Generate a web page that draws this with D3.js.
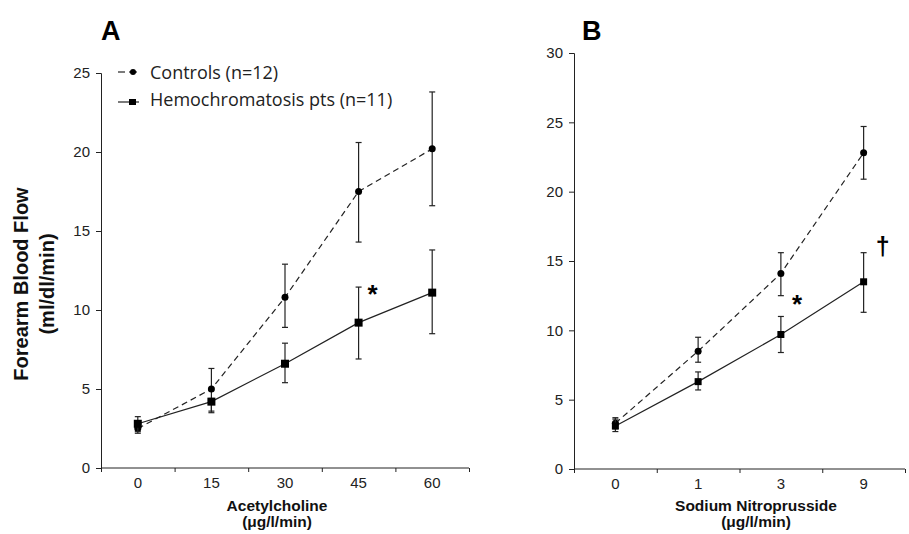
<!DOCTYPE html>
<html>
<head>
<meta charset="UTF-8">
<title>Forearm Blood Flow</title>
<script src="https://cdn.jsdelivr.net/npm/d3@7"></script>
<style>
  body { margin: 0; background: #fff; }
  text { font-family: Arial, "Liberation Sans", sans-serif; }
</style>
</head>
<body>
<div id="chart"></div>
<script>
// panel A : acetylcholine
var achDoses = ["0", "15", "30", "45", "60"];
var achControls = [2.5, 5.0, 10.8, 17.5, 20.2];
var achControlsLo = [2.2, 3.5, 8.9, 14.3, 16.6];
var achControlsHi = [2.8, 6.3, 12.9, 20.6, 23.8];
var achHemo = [2.8, 4.2, 6.6, 9.2, 11.1];
var achHemoLo = [2.3, 3.6, 5.4, 6.9, 8.5];
var achHemoHi = [3.25, 4.4, 7.9, 11.45, 13.8];
var achTicks = [0, 5, 10, 15, 20, 25];

// panel B : sodium nitroprusside
var snpDoses = ["0", "1", "3", "9"];
var snpControls = [3.3, 8.5, 14.1, 22.8];
var snpControlsLo = [2.9, 7.7, 12.5, 20.9];
var snpControlsHi = [3.7, 9.5, 15.6, 24.7];
var snpHemo = [3.1, 6.3, 9.7, 13.5];
var snpHemoLo = [2.7, 5.7, 8.4, 11.3];
var snpHemoHi = [3.6, 7.0, 11.0, 15.6];
var snpTicks = [0, 5, 10, 15, 20, 25, 30];

var svg = d3.select("#chart").append("svg")
    .attr("width", 909)
    .attr("height", 534);

function panel(cfg) {
  var x = d3.scaleBand().domain(cfg.doses).range([cfg.x0, cfg.x1]).padding(0);
  var xb = d3.scaleLinear().domain([0, cfg.doses.length]).range([cfg.x0, cfg.x1]);
  var y = d3.scaleLinear().domain([0, cfg.ymax]).range([cfg.y0, cfg.y1]);
  var g = svg.append("g");

  // y axis
  var ya = g.append("g")
      .attr("transform", "translate(" + cfg.x0 + ",0)")
      .call(d3.axisLeft(y).tickValues(cfg.ticks).tickSize(5).tickPadding(6));
  ya.select(".domain").attr("stroke", "#222");
  ya.selectAll(".tick line").attr("stroke", "#222");
  ya.selectAll(".tick text").attr("font-size", 15).attr("fill", "#222");

  // x axis: boundary ticks + centred labels
  var xa = g.append("g")
      .attr("transform", "translate(0," + cfg.y0 + ")")
      .call(d3.axisBottom(xb).tickValues(d3.range(cfg.doses.length + 1)).tickSize(4).tickFormat(""));
  xa.select(".domain").attr("stroke", "#222").attr("d", "M" + cfg.x0 + ",0H" + cfg.x1);
  xa.selectAll(".tick line").attr("stroke", "#222");
  var xl = g.append("g")
      .attr("transform", "translate(0," + cfg.y0 + ")")
      .call(d3.axisBottom(x).tickSize(0).tickPadding(9));
  xl.select(".domain").remove();
  xl.selectAll(".tick text").attr("font-size", 15).attr("fill", "#222");

  var cx = function(d, i) { return x(cfg.doses[i]) + x.bandwidth() / 2; };

  var series = [
    { v: cfg.ctrl, lo: cfg.ctrlLo, hi: cfg.ctrlHi, dash: "6,4", mark: "circle" },
    { v: cfg.hemo, lo: cfg.hemoLo, hi: cfg.hemoHi, dash: null, mark: "square" }
  ];

  series.forEach(function(s) {
    var line = d3.line().x(cx).y(function(d) { return y(d); });
    g.append("path").datum(s.v)
        .attr("d", line)
        .attr("fill", "none")
        .attr("stroke", "#222")
        .attr("stroke-width", 1.2)
        .attr("stroke-dasharray", s.dash);

    s.v.forEach(function(d, i) {
      var px = cx(d, i);
      g.append("line").attr("x1", px).attr("x2", px)
          .attr("y1", y(s.lo[i])).attr("y2", y(s.hi[i]))
          .attr("stroke", "#222").attr("stroke-width", 1.2);
      [s.lo[i], s.hi[i]].forEach(function(e) {
        g.append("line").attr("x1", px - 3).attr("x2", px + 3)
            .attr("y1", y(e)).attr("y2", y(e))
            .attr("stroke", "#222").attr("stroke-width", 1.2);
      });
    });

    if (s.mark == "circle") {
      g.selectAll(null).data(s.v).enter().append("circle")
          .attr("cx", cx).attr("cy", function(d) { return y(d); })
          .attr("r", 3.5).attr("fill", "#000");
    } else {
      g.selectAll(null).data(s.v).enter().append("rect")
          .attr("x", function(d, i) { return cx(d, i) - cfg.sq / 2; })
          .attr("y", function(d) { return y(d) - cfg.sq / 2; })
          .attr("width", cfg.sq).attr("height", cfg.sq).attr("fill", "#000");
    }
  });

  // panel letter
  g.append("text").attr("x", cfg.letterX).attr("y", 40)
      .attr("font-size", 27).attr("font-weight", "bold").text(cfg.letter);

  // x title
  g.append("text").attr("x", cfg.titleX).attr("y", 511).attr("text-anchor", "middle")
      .attr("font-size", 15.5).attr("font-weight", "bold").attr("fill", "#111").text(cfg.xtitle);
  g.append("text").attr("x", cfg.titleX).attr("y", 527).attr("text-anchor", "middle")
      .attr("font-size", 15.5).attr("font-weight", "bold").attr("fill", "#111").text("(μg/l/min)");

  return { x: x, y: y, g: g, cx: cx };
}

var pA = panel({
  doses: achDoses, x0: 101, x1: 469, y0: 468, y1: 73, ymax: 25, ticks: achTicks,
  ctrl: achControls, ctrlLo: achControlsLo, ctrlHi: achControlsHi,
  hemo: achHemo, hemoLo: achHemoLo, hemoHi: achHemoHi,
  sq: 8, letter: "A", letterX: 101, titleX: 277, xtitle: "Acetylcholine"
});

var pB = panel({
  doses: snpDoses, x0: 574, x1: 905, y0: 469, y1: 53, ymax: 30, ticks: snpTicks,
  ctrl: snpControls, ctrlLo: snpControlsLo, ctrlHi: snpControlsHi,
  hemo: snpHemo, hemoLo: snpHemoLo, hemoHi: snpHemoHi,
  sq: 7, letter: "B", letterX: 582, titleX: 756, xtitle: "Sodium Nitroprusside"
});

// significance marks
pA.g.append("text").attr("x", pA.cx(0, 3) + 9).attr("y", pA.y(achHemoHi[3]) + 16)
    .attr("font-size", 26).attr("font-weight", "bold").text("*");
pB.g.append("text").attr("x", pB.cx(0, 2) + 11).attr("y", pB.y(snpHemoHi[2]) - 3)
    .attr("font-size", 26).attr("font-weight", "bold").text("*");
pB.g.append("text").attr("x", pB.cx(0, 3) + 12).attr("y", pB.y(snpHemoHi[3]) + 2)
    .attr("font-size", 25).attr("font-weight", "bold").text("†");

// y title
var yt = svg.append("text").attr("transform", "translate(28,284) rotate(-90)")
    .attr("text-anchor", "middle").attr("font-size", 20).attr("font-weight", "bold").attr("fill", "#111");
yt.append("tspan").attr("x", 0).attr("dy", 0).text("Forearm Blood Flow");
yt.append("tspan").attr("x", 0).attr("dy", 26).text("(ml/dl/min)");

// legend
var leg = svg.append("g");
leg.append("line").attr("x1", 118).attr("x2", 125).attr("y1", 72).attr("y2", 72)
    .attr("stroke", "#222").attr("stroke-width", 1.2);
leg.append("line").attr("x1", 129).attr("x2", 137).attr("y1", 72).attr("y2", 72)
    .attr("stroke", "#222").attr("stroke-width", 1.2);
leg.append("circle").attr("cx", 133).attr("cy", 72).attr("r", 3).attr("fill", "#000");
leg.append("text").attr("x", 150).attr("y", 79).attr("font-size", 18).attr("fill", "#222")
    .style("font-family", "'Open Sans', sans-serif").text("Controls (n=12)");
leg.append("line").attr("x1", 118).attr("x2", 139).attr("y1", 102).attr("y2", 102)
    .attr("stroke", "#222").attr("stroke-width", 1.2);
leg.append("rect").attr("x", 129).attr("y", 99).attr("width", 7).attr("height", 6).attr("fill", "#000");
leg.append("text").attr("x", 150).attr("y", 106).attr("font-size", 18).attr("fill", "#222")
    .style("font-family", "'Open Sans', sans-serif").text("Hemochromatosis pts (n=11)");
</script>
</body>
</html>
